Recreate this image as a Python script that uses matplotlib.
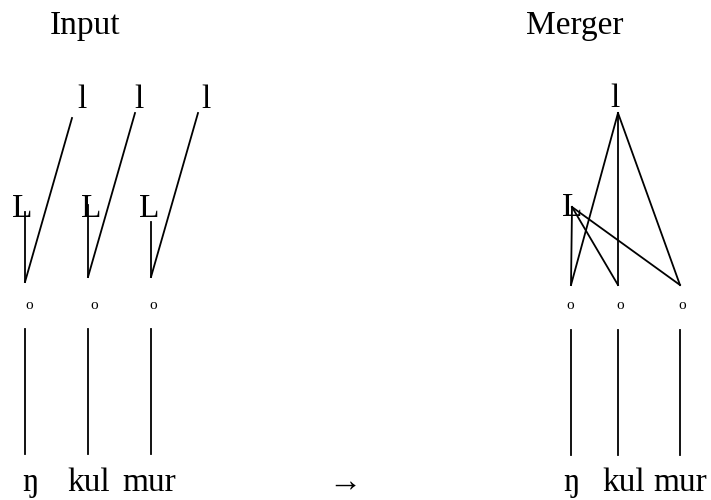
import matplotlib
matplotlib.use("Agg")
import matplotlib.pyplot as plt

# ---- data ----
titles = ["Input", "Merger"]
segments = ["ŋ", "kul", "mur"]
tone_high = "l"
tone_low = "L"
mora = "o"
arrow = "→"

# input: one high and one low tone per syllable
input_tones_H = [0, 1, 2]          # syllable index linked to each high tone
input_tones_L = [0, 1, 2]
# merger: single high and single low linked to all syllables
merger_H_links = [0, 1, 2]
merger_L_links = [0, 1, 2]

# ---- layout (pixels) ----
FONT = "Liberation Serif"
BIG = 24
SMALL = 11

in_mora_x = [25, 88, 151]
in_node_y = [282, 277, 277]
in_H_top = [(72, 118), (135, 113), (198, 113)]
in_H_label_x = [82, 139, 206]
in_L_label_x = [22, 91, 149]
in_L_top_y = [212, 205, 222]
in_o_x = [29, 94, 153]
in_seg_x = [30, 89, 149]

mg_mora_x = [571, 618, 680]
mg_node_y = 285
mg_H = (618, 113)
mg_L = (572, 207)
mg_o_x = [570, 620, 682]
mg_seg_x = [571, 624, 680]

fig = plt.figure(figsize=(7.11, 5.0), dpi=100)
ax = fig.add_axes([0, 0, 1, 1])
ax.set_xlim(0, 711)
ax.set_ylim(500, 0)
ax.axis("off")

lw = 1.3
kw = dict(fontfamily=FONT, color="black")

# titles
ax.text(85, 34, titles[0], fontsize=BIG, ha="center", va="baseline", **kw)
ax.text(575, 34, titles[1], fontsize=BIG, ha="center", va="baseline", **kw)

# input
for i in range(3):
    hx, hy = in_H_top[i]
    j = input_tones_H[i]
    ax.plot([hx, in_mora_x[j]], [hy, in_node_y[j]], color="black", lw=lw)
    ax.text(in_H_label_x[i], 108, tone_high, fontsize=BIG, ha="center", va="baseline", **kw)
    ax.text(in_L_label_x[i], 217, tone_low, fontsize=BIG, ha="center", va="baseline", **kw)
    k = input_tones_L[i]
    ax.plot([in_mora_x[k], in_mora_x[k]], [in_L_top_y[i], in_node_y[k]], color="black", lw=lw)
    ax.text(in_o_x[i], 309, mora, fontsize=SMALL, ha="center", va="baseline", **kw)
    ax.plot([in_mora_x[i], in_mora_x[i]], [329, 454], color="black", lw=lw)
    ax.text(in_seg_x[i], 491, segments[i], fontsize=BIG, ha="center", va="baseline", **kw)

# arrow
ax.text(345, 491, arrow, fontsize=BIG, ha="center", va="baseline",
        fontfamily=[FONT, "DejaVu Sans"], color="black")

# merger
ax.text(615, 107, tone_high, fontsize=BIG, ha="center", va="baseline", **kw)
ax.text(572, 216, tone_low, fontsize=BIG, ha="center", va="baseline", **kw)
for j in merger_H_links:
    ax.plot([mg_H[0], mg_mora_x[j]], [mg_H[1], mg_node_y], color="black", lw=lw)
for j in merger_L_links:
    ax.plot([mg_L[0], mg_mora_x[j]], [mg_L[1], mg_node_y], color="black", lw=lw)
for i in range(3):
    ax.text(mg_o_x[i], 309, mora, fontsize=SMALL, ha="center", va="baseline", **kw)
    ax.plot([mg_mora_x[i], mg_mora_x[i]], [330, 455], color="black", lw=lw)
    ax.text(mg_seg_x[i], 491, segments[i], fontsize=BIG, ha="center", va="baseline", **kw)

fig.savefig("out.png", dpi=100, facecolor="white")
